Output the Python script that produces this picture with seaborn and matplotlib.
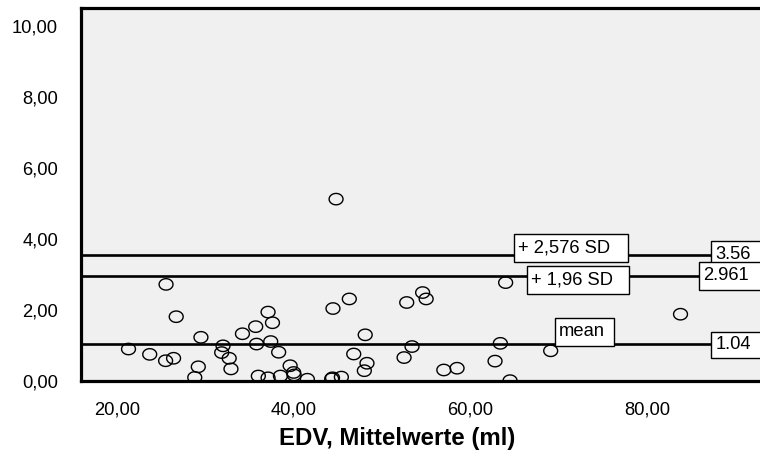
import numpy as np
import pandas as pd
import matplotlib
matplotlib.use("Agg")
import matplotlib.pyplot as plt
from matplotlib.path import Path
from matplotlib.patches import Rectangle
import seaborn as sns

edv = [21.3, 23.7, 25.5, 25.55, 26.4, 26.7, 28.8, 29.2, 29.5, 31.85,
       32.0, 32.7, 32.9, 34.2, 35.7, 35.8, 36.0, 37.1, 37.1, 37.4,
       37.6, 38.3, 38.5, 39.6, 40.0, 40.05, 41.55, 44.3, 44.4, 44.45,
       44.8, 45.4, 46.3, 46.8, 48.0, 48.1, 48.3, 52.5, 52.8, 53.4,
       54.6, 55.0, 57.0, 58.5, 62.8, 63.4, 64.0, 64.5, 69.1, 83.8]
diff = [0.90, 0.75, 0.57, 2.72, 0.64, 1.81, 0.10, 0.40, 1.23, 0.80,
        0.99, 0.64, 0.34, 1.33, 1.53, 1.04, 0.14, 1.94, 0.09, 1.11,
        1.64, 0.81, 0.14, 0.43, 0.24, 0.17, 0.05, 0.06, 0.09, 2.04,
        5.12, 0.11, 2.31, 0.76, 0.29, 1.30, 0.50, 0.66, 2.21, 0.97,
        2.49, 2.31, 0.31, 0.36, 0.56, 1.06, 2.77, 0.01, 0.85, 1.88]

ref_values = [3.56, 2.961, 1.04]
ref_value_labels = ["3.56", "2.961", "1.04"]
ref_names = ["+ 2,576 SD", "+ 1,96 SD", "mean"]

x_ticks = [20, 40, 60, 80]
x_ticklabels = ["20,00", "40,00", "60,00", "80,00"]
y_ticks = [0, 2, 4, 6, 8, 10]
y_ticklabels = ["0,00", "2,00", "4,00", "6,00", "8,00", "10,00"]
x_label = "EDV, Mittelwerte (ml)"

df = pd.DataFrame({"EDV": edv, "diff": diff})

sns.set_style("white")
plt.rcParams["font.family"] = ["Liberation Sans", "DejaVu Sans"]
plt.rcParams["text.color"] = "black"
plt.rcParams["xtick.labelcolor"] = "black"
plt.rcParams["ytick.labelcolor"] = "black"
plt.rcParams["axes.labelcolor"] = "black"

W, H = 760, 454
fig = plt.figure(figsize=(W / 100, H / 100), dpi=100)
ax = fig.add_axes([81 / W, 1 - 381 / H, (760 - 81) / W, (381 - 8) / H])
ax.set_facecolor("#f0f0f0")

# ellipse marker (wider than tall)
t = np.linspace(0, 2 * np.pi, 60)
verts = np.column_stack([np.cos(t), 0.82 * np.sin(t)])
ell = Path(verts, closed=True)

sns.scatterplot(data=df, x="EDV", y="diff", ax=ax, marker=ell, s=100,
                facecolor="none", edgecolor="black", linewidth=1.0,
                legend=False, zorder=3)

for v in ref_values:
    ax.axhline(v, color="black", lw=1.9, zorder=2)

ax.set_xlim(15.92, 92.8)
ax.set_ylim(0, 10.5)
ax.set_xticks(x_ticks)
ax.set_xticklabels(x_ticklabels)
ax.set_yticks(y_ticks)
ax.set_yticklabels(y_ticklabels)
for lab in ax.get_xticklabels() + ax.get_yticklabels():
    lab.set_fontsize(13.2)
ax.tick_params(axis="both", direction="out", length=9.5, width=1.2,
               color="#555555", pad=4)
ax.tick_params(axis="y", pad=7)
ax.tick_params(axis="x", pad=5)
ax.set_xlabel(x_label, fontsize=17.3, fontweight="bold")
ax.xaxis.set_label_coords((397 - 81) / (760 - 81), -(438 - 381) / (381 - 8))
ax.xaxis.label.set_va("center")
ax.set_ylabel("")

for side in ["left", "bottom", "top"]:
    ax.spines[side].set_linewidth(2.3)
    ax.spines[side].set_color("black")
ax.spines["right"].set_visible(False)


# annotation boxes, given in pixel extents of the picture
def px2x(px):
    return 20 + (px - 117) / 8.83


def px2y(py):
    return (381 - py) / 35.5


def label_box(left, right, top, bottom, text):
    x0, x1 = px2x(left), px2x(right)
    y0, y1 = px2y(bottom), px2y(top)
    ax.add_patch(Rectangle((x0, y0), x1 - x0, y1 - y0, fc="white",
                           ec="black", lw=1.0, zorder=5, clip_on=False))
    ax.text(px2x(left + 4), (y0 + y1) / 2, text, fontsize=13.2,
            ha="left", va="center", zorder=6)


name_boxes = [(514, 628, 234, 262), (527, 629, 266, 294), (555, 614, 318, 346)]
val_boxes = [(711, 790, 241, 268), (699, 790, 262, 290), (711, 790, 332, 358)]
for (l, r, tp, b), name in zip(name_boxes, ref_names):
    label_box(l, r, tp, b, name)
for (l, r, tp, b), lab in zip(val_boxes, ref_value_labels):
    label_box(l, r, tp, b, lab)

fig.savefig("out.png", dpi=100)
